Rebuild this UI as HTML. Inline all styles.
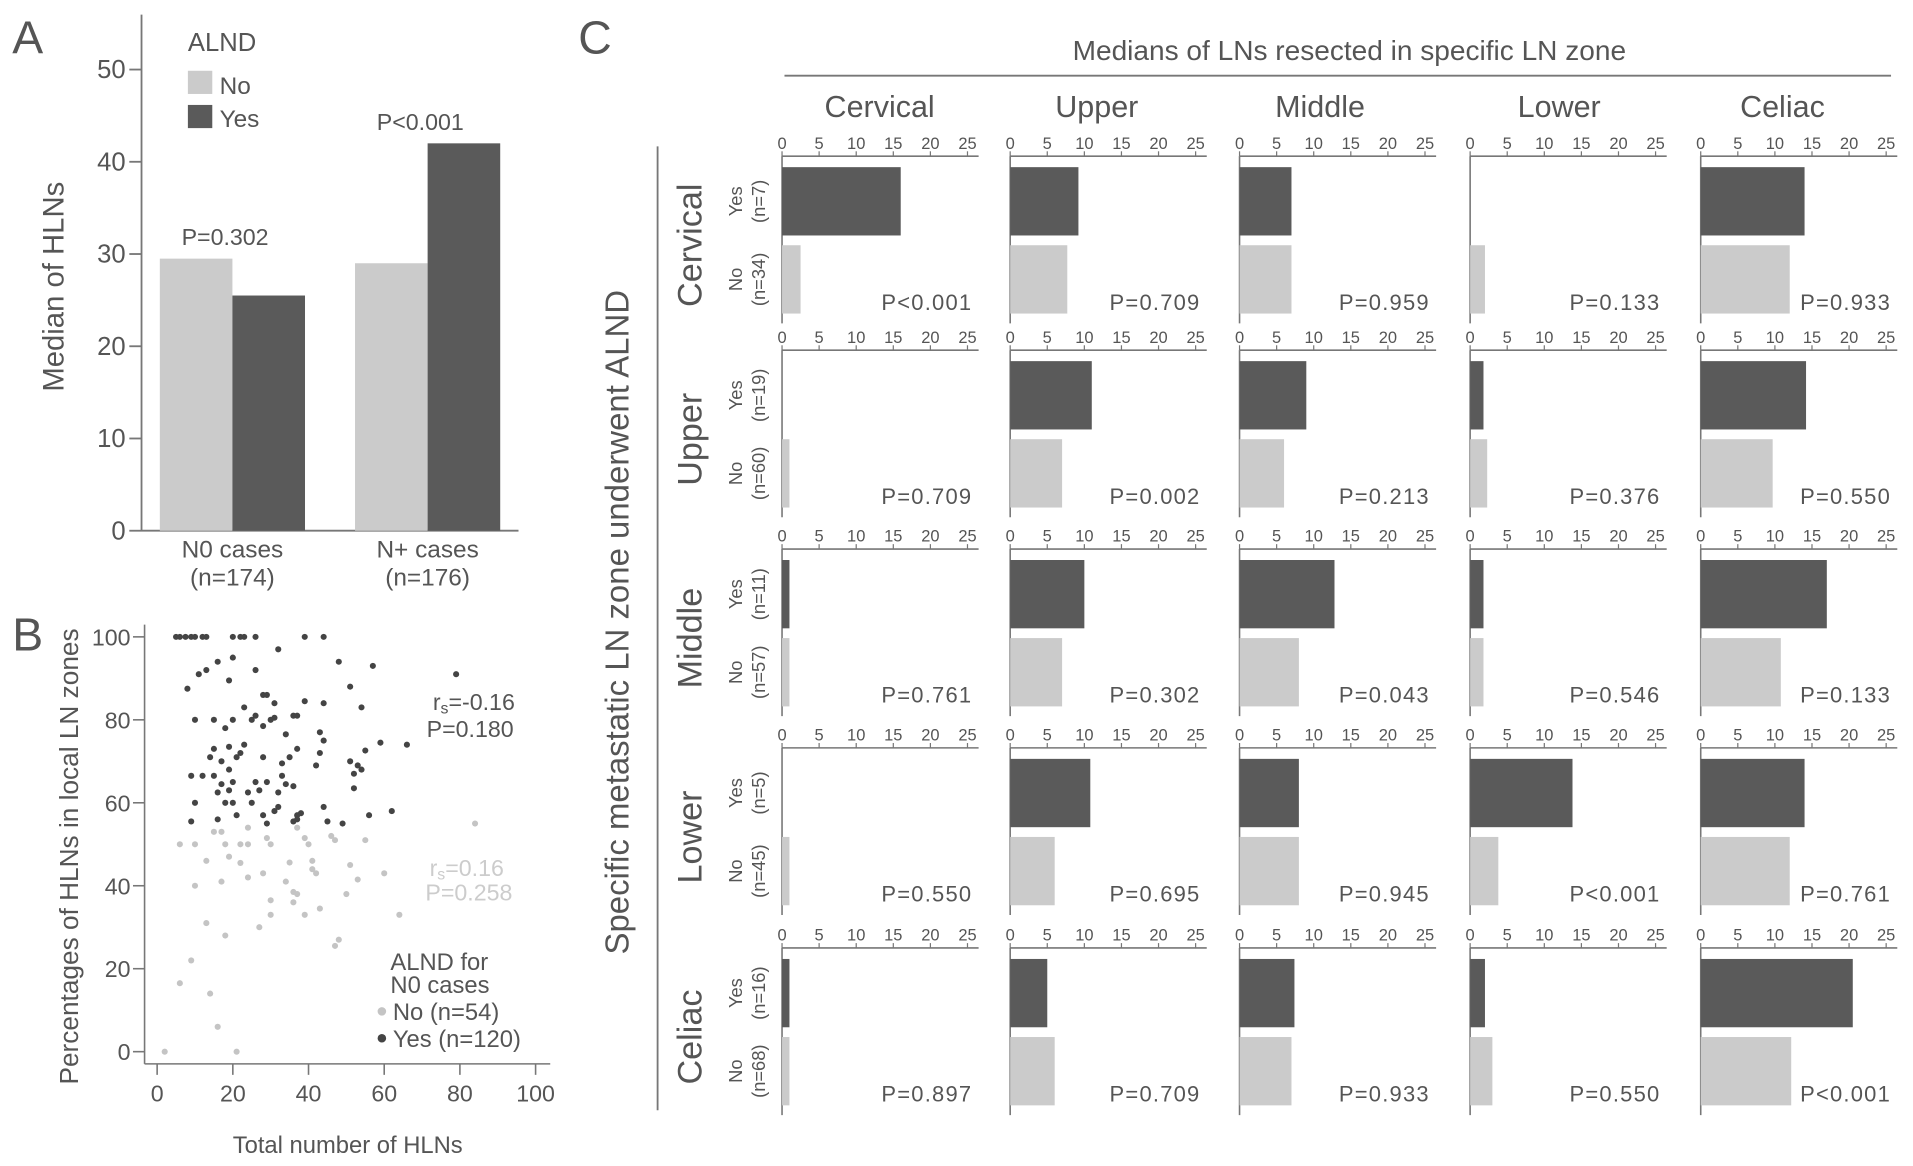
<!DOCTYPE html>
<html><head><meta charset="utf-8"><style>
html,body{margin:0;padding:0;background:#fff;}
svg{display:block;font-family:"Liberation Sans",sans-serif;}
text{fill:#555;}
</style></head><body>
<svg id="fig" width="1913" height="1166" viewBox="0 0 1568 955.7" xmlns="http://www.w3.org/2000/svg">
<g id="pa"></g>
<g id="pb"></g>
<g id="pc"></g>
</svg>
<script>
// ---- Panel A data ----
const aCategories = ["N0 cases", "N+ cases"];
const aCatN = ["(n=174)", "(n=176)"];
const aNo = [29.5, 29];
const aYes = [25.5, 42];
const aP = ["P=0.302", "P<0.001"];
const aTicks = [0, 10, 20, 30, 40, 50];

// ---- Panel B data ----
const bYesX = [5,6,7.5,9,10,12,13,20,22,23,26,39,44,32,20,16,13,11,26,19,8,48,57,79,51,28,29,31,39,44,54,23,10,15,20,25,26,30,31,36,37,28,18,34,43,44,59,66,15,19,23,22,21,14,17,28,35,37,43,51,53,54,55,19,33,42,9,12,15,33,52,17,20,26,29,34,36,52,16,19,24,27,32,10,18,20,25,32,31,44,62,56,21,28,38,37,37,36,9,16,29,45,49];
const bYesY = [100,100,100,100,100,100,100,100,100,100,100,100,100,97,95,94,92,91,92,89.5,87.5,94,93,91,88,86,86,84,84.5,84,83,83,80,80,80,80,81,80,80.5,81,81,78.5,78,76.5,77,75,74.5,74,73,73.5,74,72,71,71,70,71,71,73,72,70,69,68,72.6,68,69.5,69,66.5,66.5,66.5,66.5,67,64.5,65,65,65,64.5,64,63.5,62.5,63,62.5,63,62.5,60,60,60,60,59,58,59,58,57,57,57,57.5,57,56,55.5,55.5,56,55,55.5,55];
const bNoX = [15,17,24,37,46,47,84,29,30,39,40,55,6,10,18,22,24,19,13,41,22,35,51,41,42,60,28,24,17,34,53,10,36,37,50,30,36,43,30,39,64,13,27,18,48,47,9,6,14,16,2,21];
const bNoY = [53,53,54,54,52,51,55,51.5,50,51.5,50,51,50,50,50,50,50,47,46,46,45.5,45.6,45,44,43,43,43,42,41,41,41.5,40,38.5,38,38,36.5,36,34.5,33,33,33,31,30,28,27,25.5,22,16.5,14,6,0,0];
const bXTicks = [0, 20, 40, 60, 80, 100];
const bYTicks = [0, 20, 40, 60, 80, 100];

// ---- Panel C data ----
const cZones = ["Cervical", "Upper", "Middle", "Lower", "Celiac"];
const cYesN = ["(n=7)", "(n=19)", "(n=11)", "(n=5)", "(n=16)"];
const cNoN = ["(n=34)", "(n=60)", "(n=57)", "(n=45)", "(n=68)"];
const cYes = [
  [16, 9.2, 7, 0, 14],
  [0, 11, 9, 1.8, 14.2],
  [1, 10, 12.8, 1.8, 17],
  [0, 10.8, 8, 13.8, 14],
  [1, 5, 7.4, 2, 20.5]
];
const cNo = [
  [2.5, 7.7, 7, 2, 12],
  [1, 7, 6, 2.3, 9.7],
  [1, 7, 8, 1.8, 10.8],
  [1, 6, 8, 3.8, 12],
  [1, 6, 7, 3, 12.2]
];
const cP = [
  ["P<0.001","P=0.709","P=0.959","P=0.133","P=0.933"],
  ["P=0.709","P=0.002","P=0.213","P=0.376","P=0.550"],
  ["P=0.761","P=0.302","P=0.043","P=0.546","P=0.133"],
  ["P=0.550","P=0.695","P=0.945","P<0.001","P=0.761"],
  ["P=0.897","P=0.709","P=0.933","P=0.550","P<0.001"]
];
const cTicks = [0, 5, 10, 15, 20, 25];

const NS = "http://www.w3.org/2000/svg";
const DARK = "#5a5a5a", LIGHT = "#cbcbcb", AX = "#777";
function mk(parent, tag, attrs, txt) {
  const e = document.createElementNS(NS, tag);
  for (const k in attrs) e.setAttribute(k, attrs[k]);
  if (txt !== undefined) e.textContent = txt;
  parent.appendChild(e);
  return e;
}

// ===== Panel A =====
(function () {
  const g = document.getElementById("pa");
  const y = v => 435 - v * 7.56;
  let t = mk(g, "text", {x: 10, y: 44, "font-size": 38, fill: "#222"}, "A");
  
  
  let l = mk(g, "line", {x1: 116, y1: 12, x2: 116, y2: 435, stroke: AX, "stroke-width": 1.5});
  
  
  l = mk(g, "line", {x1: 116, y1: 435, x2: 425, y2: 435, stroke: AX, "stroke-width": 1.5});
  
  
  aTicks.forEach(v => {
    const tk = mk(g, "line", {x1: 106, y1: y(v), x2: 116, y2: y(v), stroke: AX, "stroke-width": 1.5});
    
    
    const tl = mk(g, "text", {x: 103, y: y(v) + 7, "font-size": 21, "text-anchor": "end"}, v);
    
    
  });
  t = mk(g, "text", {x: 52, y: 235, "font-size": 24, "text-anchor": "middle", transform: "rotate(-90 52 235)"}, "Median of HLNs");
  
  
  const groupX = [131, 291], bw = 59.5;
  aCategories.forEach((c, i) => {
    const x0 = groupX[i];
    let r = mk(g, "rect", {x: x0, y: y(aNo[i]), width: bw, height: y(0) - y(aNo[i]), fill: LIGHT});
    
    
    r = mk(g, "rect", {x: x0 + bw, y: y(aYes[i]), width: bw, height: y(0) - y(aYes[i]), fill: DARK});
    
    
    const cx = x0 + bw;
    let tt = mk(g, "text", {x: cx, y: 457, "font-size": 20, "text-anchor": "middle"}, c);
    
    
    tt = mk(g, "text", {x: cx, y: 480, "font-size": 20, "text-anchor": "middle"}, aCatN[i]);
    
    
    const top = Math.max(aNo[i], aYes[i]);
    tt = mk(g, "text", {x: cx - 6, y: y(top) - 11, "font-size": 19, "text-anchor": "middle"}, aP[i]);
    
    
  });
  t = mk(g, "text", {x: 154, y: 42, "font-size": 21}, "ALND");
  
  
  let r = mk(g, "rect", {x: 154, y: 58, width: 20, height: 19, fill: LIGHT});
  
  
  t = mk(g, "text", {x: 180, y: 77, "font-size": 20}, "No");
  
  
  r = mk(g, "rect", {x: 154, y: 86, width: 20, height: 19, fill: DARK});
  
  
  t = mk(g, "text", {x: 180, y: 104, "font-size": 20}, "Yes");
  
  
})();

// ===== Panel B =====
(function () {
  const g = document.getElementById("pb");
  const x = v => 128.8 + v * 3.102;
  const y = v => 862 - v * 3.4;
  let t = mk(g, "text", {x: 10, y: 533, "font-size": 38, fill: "#222"}, "B");
  
  
  let l = mk(g, "line", {x1: 118.5, y1: 512, x2: 118.5, y2: 872, stroke: AX, "stroke-width": 1.3});
  
  
  l = mk(g, "line", {x1: 118.5, y1: 872, x2: 451, y2: 872, stroke: AX, "stroke-width": 1.3});
  
  
  bYTicks.forEach(v => {
    const tk = mk(g, "line", {x1: 109, y1: y(v), x2: 118.5, y2: y(v), stroke: AX, "stroke-width": 1.3});
    
    
    const tl = mk(g, "text", {x: 107, y: y(v) + 7, "font-size": 19, "text-anchor": "end"}, v);
    
    
  });
  bXTicks.forEach(v => {
    const tk = mk(g, "line", {x1: x(v), y1: 872, x2: x(v), y2: 881, stroke: AX, "stroke-width": 1.3});
    
    
    const tl = mk(g, "text", {x: x(v), y: 903, "font-size": 19, "text-anchor": "middle"}, v);
    
    
  });
  t = mk(g, "text", {x: 285, y: 945, "font-size": 19.5, "text-anchor": "middle"}, "Total number of HLNs");
  
  
  t = mk(g, "text", {x: 64, y: 702, "font-size": 21.5, "text-anchor": "middle", transform: "rotate(-90 64 702)"}, "Percentages of HLNs in local LN zones");
  
  
  bNoX.forEach((v, i) => {
    const c = mk(g, "circle", {cx: x(v), cy: y(bNoY[i]), r: 2.5, fill: "#c4c4c4"});
    
    
  });
  bYesX.forEach((v, i) => {
    const c = mk(g, "circle", {cx: x(v), cy: y(bYesY[i]), r: 2.5, fill: "#444"});
    
    
  });
  function corr(xx, yy, val, col, name) {
    const e = mk(g, "text", {x: xx, y: yy, "font-size": 19, "text-anchor": "end", style: "fill:" + col});
    
    
    mk(e, "tspan", {}, "r");
    mk(e, "tspan", {"font-size": 13, dy: 3}, "s");
    mk(e, "tspan", {dy: -3}, val);
  }
  corr(422, 582, "=-0.16", "#555", 'b-corr-yes');
  t = mk(g, "text", {x: 421, y: 604, "font-size": 19, "text-anchor": "end"}, "P=0.180");
  
  
  corr(413, 718, "=0.16", "#ccc", 'b-corr-no');
  t = mk(g, "text", {x: 420, y: 738, "font-size": 19, "text-anchor": "end", style: "fill:#ccc"}, "P=0.258");
  
  
  t = mk(g, "text", {x: 320, y: 795, "font-size": 19.5}, "ALND for");
  
  
  t = mk(g, "text", {x: 320, y: 814, "font-size": 19.5}, "N0 cases");
  
  
  let c = mk(g, "circle", {cx: 313, cy: 829, r: 3.5, fill: "#c4c4c4"});
  
  
  t = mk(g, "text", {x: 322, y: 836, "font-size": 19.5}, "No (n=54)");
  
  
  c = mk(g, "circle", {cx: 313, cy: 851, r: 3.5, fill: "#444"});
  
  
  t = mk(g, "text", {x: 322, y: 858, "font-size": 19.5}, "Yes (n=120)");
  
  
})();

// ===== Panel C =====
(function () {
  const g = document.getElementById("pc");
  const colX = [641, 828, 1016, 1205, 1394];
  const headX = [721, 899, 1082, 1278, 1461];
  const rowAx = [128, 287, 450, 613, 777];
  const scale = 6.08;
  let t = mk(g, "text", {x: 474, y: 44, "font-size": 38, fill: "#222"}, "C");
  
  
  t = mk(g, "text", {x: 1106, y: 49, "font-size": 23, "text-anchor": "middle"}, "Medians of LNs resected in specific LN zone");
  
  
  let l = mk(g, "line", {x1: 643, y1: 62, x2: 1550, y2: 62, stroke: AX, "stroke-width": 1.5});
  
  
  l = mk(g, "line", {x1: 539, y1: 120, x2: 539, y2: 910, stroke: AX, "stroke-width": 1.5});
  
  
  t = mk(g, "text", {x: 515, y: 510, "font-size": 27, "text-anchor": "middle", transform: "rotate(-90 515 510)"}, "Specific metastatic LN zone underwent ALND");
  
  
  cZones.forEach((z, c) => {
    const h = mk(g, "text", {x: headX[c], y: 96, "font-size": 25, "text-anchor": "middle"}, z);
    
    
  });
  cZones.forEach((z, r) => {
    const ay = rowAx[r];
    const yesTop = ay + 9, barH = 56, noTop = ay + 73;
    const rowMid = ay + 73;
    let rt = mk(g, "text", {x: 575, y: rowMid, "font-size": 28, "text-anchor": "middle", transform: `rotate(-90 575 ${rowMid})`}, z);
    
    
    const yc = yesTop + barH / 2, nc = noTop + barH / 2;
    [["Yes", 608, yc], [cYesN[r], 627, yc], ["No", 608, nc], [cNoN[r], 627, nc]].forEach(([s, xx, yy]) => {
      const e = mk(g, "text", {x: xx, y: yy, "font-size": 15, "text-anchor": "middle", transform: `rotate(-90 ${xx} ${yy})`}, s);
      
      
    });
    colX.forEach((x0, c) => {
      const xs = v => x0 + v * scale;
      let a = mk(g, "line", {x1: x0, y1: ay, x2: xs(26.5), y2: ay, stroke: AX, "stroke-width": 1.3});
      
      
      a = mk(g, "line", {x1: x0, y1: ay, x2: x0, y2: ay + 137, stroke: AX, "stroke-width": 1.3});
      
      
      cTicks.forEach(v => {
        const tk = mk(g, "line", {x1: xs(v), y1: ay - 4, x2: xs(v), y2: ay, stroke: AX, "stroke-width": 1});
        
        
        const tl = mk(g, "text", {x: xs(v), y: ay - 6, "font-size": 13.5, "text-anchor": "middle"}, v);
        
        
      });
      if (cYes[r][c] > 0) {
        const b = mk(g, "rect", {x: x0, y: yesTop, width: cYes[r][c] * scale, height: barH, fill: DARK});
        
        
      }
      if (cNo[r][c] > 0) {
        const b = mk(g, "rect", {x: x0, y: noTop, width: cNo[r][c] * scale, height: barH, fill: LIGHT});
        
        
      }
      const p = mk(g, "text", {x: x0 + 156, y: ay + 126, "font-size": 18, "text-anchor": "end", "letter-spacing": 1}, cP[r][c]);
      
      
    });
  });
})();
</script>
</body></html>
